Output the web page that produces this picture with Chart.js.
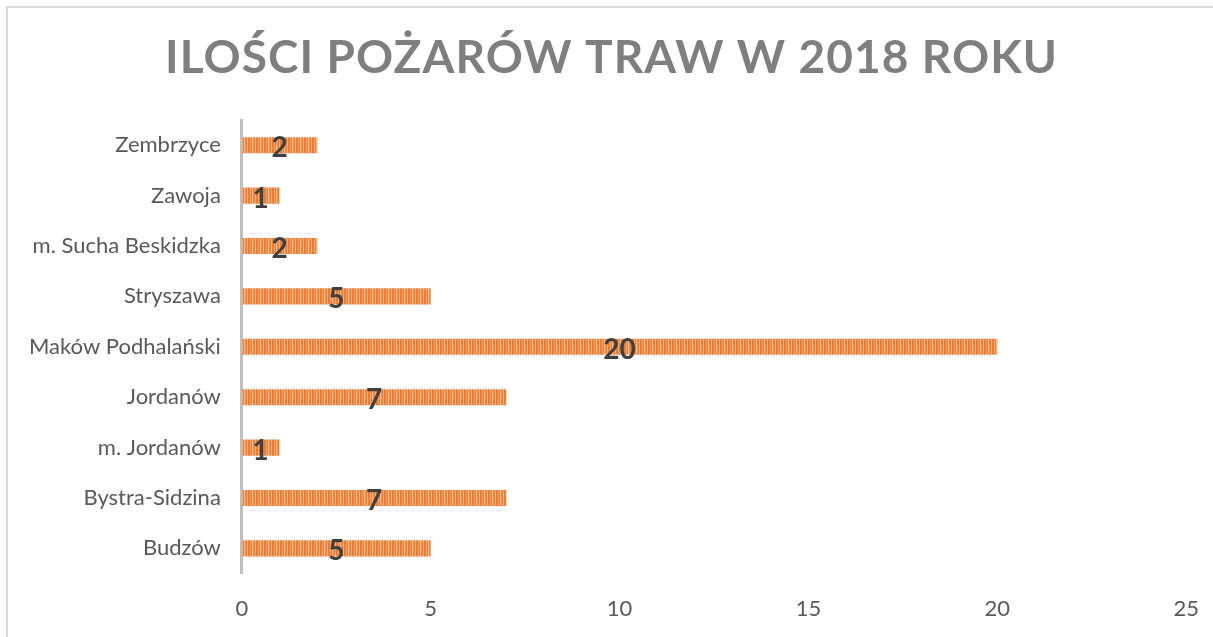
<!DOCTYPE html>
<html>
<head>
<meta charset="utf-8">
<script src="https://cdn.jsdelivr.net/npm/chart.js@4/dist/chart.umd.min.js"></script>
<style>
  html, body { margin: 0; padding: 0; background: #fff; }
  #wrap { position: relative; width: 1213px; height: 637px; }
  #frame { position: absolute; left: 6px; top: 6px; right: 0; bottom: 0;
           border-top: 2px solid #d9d9d9; border-left: 2px solid #d9d9d9; }
  canvas { position: absolute; left: 0; top: 0; }
</style>
</head>
<body>
<div id="wrap">
  <div id="frame"></div>
  <canvas id="fireChart" width="1213" height="637"></canvas>
</div>
<script>
"use strict"

const chartTitle = 'ILOŚCI POŻARÓW TRAW W 2018 ROKU';
const gminy = ['Zembrzyce', 'Zawoja', 'm. Sucha Beskidzka', 'Stryszawa', 'Maków Podhalański',
               'Jordanów', 'm. Jordanów', 'Bystra-Sidzina', 'Budzów'];
const fires = [2, 1, 2, 5, 20, 7, 1, 7, 5];
const xTicks = [0, 5, 10, 15, 20, 25];

// striped orange fill like the Excel pattern
function stripePattern() {
  let c = document.createElement('canvas');
  let cols = ['#ED7D31', '#ED7D31', '#F4A56F', '#EE8038', '#F7BC92', '#F19050', '#ED7D31', '#F5AE7C'];
  c.width = cols.length;
  c.height = 4;
  let g = c.getContext('2d');
  cols.forEach((col, i) => { g.fillStyle = col; g.fillRect(i, 0, 1, 4); });
  return document.getElementById('fireChart').getContext('2d').createPattern(c, 'repeat');
}

const titlePlugin = {
  id: 'spacedTitle',
  afterDraw(chart) {
    let ctx = chart.ctx;
    ctx.save();
    ctx.font = 'bold 46px Lato';
    ctx.fillStyle = '#7f7f7f';
    ctx.textBaseline = 'middle';
    ctx.textAlign = 'left';
    let target = 892;
    let w = ctx.measureText(chartTitle).width;
    let sp = (target - w) / (chartTitle.length - 1);
    ctx.letterSpacing = sp + 'px';
    ctx.fillText(chartTitle, 611 - target / 2, 58);
    ctx.restore();
  }
};

const valueLabels = {
  id: 'valueLabels',
  afterDatasetsDraw(chart) {
    let ctx = chart.ctx;
    let meta = chart.getDatasetMeta(0);
    ctx.save();
    ctx.font = 'bold 28px Lato';
    ctx.fillStyle = '#404040';
    ctx.textAlign = 'center';
    ctx.textBaseline = 'middle';
    meta.data.forEach((bar, i) => {
      ctx.fillText(String(fires[i]), (bar.base + bar.x) / 2, bar.y + 3);
    });
    ctx.restore();
  }
};

new Chart(document.getElementById('fireChart'), {
  type: 'bar',
  data: {
    labels: gminy,
    datasets: [{
      data: fires,
      backgroundColor: stripePattern(),
      borderWidth: 0,
      barPercentage: 0.32,
      categoryPercentage: 1
    }]
  },
  options: {
    indexAxis: 'y',
    responsive: false,
    animation: false,
    layout: { padding: { top: 120, right: 20, bottom: 1, left: 16 } },
    plugins: {
      legend: { display: false },
      tooltip: { enabled: false },
      title: { display: false }
    },
    scales: {
      x: {
        min: 0,
        max: 25,
        afterBuildTicks: axis => { axis.ticks = xTicks.map(v => ({ value: v })); },
        grid: { display: false },
        border: { display: false },
        ticks: { color: '#595959', font: { family: 'Lato', size: 22 }, padding: 14 }
      },
      y: {
        grid: { display: false },
        border: { display: true, color: '#bfbfbf', width: 3 },
        ticks: { color: '#595959', font: { family: 'Lato', size: 22 }, padding: 13 }
      }
    }
  },
  plugins: [titlePlugin, valueLabels]
});
</script>
</body>
</html>
